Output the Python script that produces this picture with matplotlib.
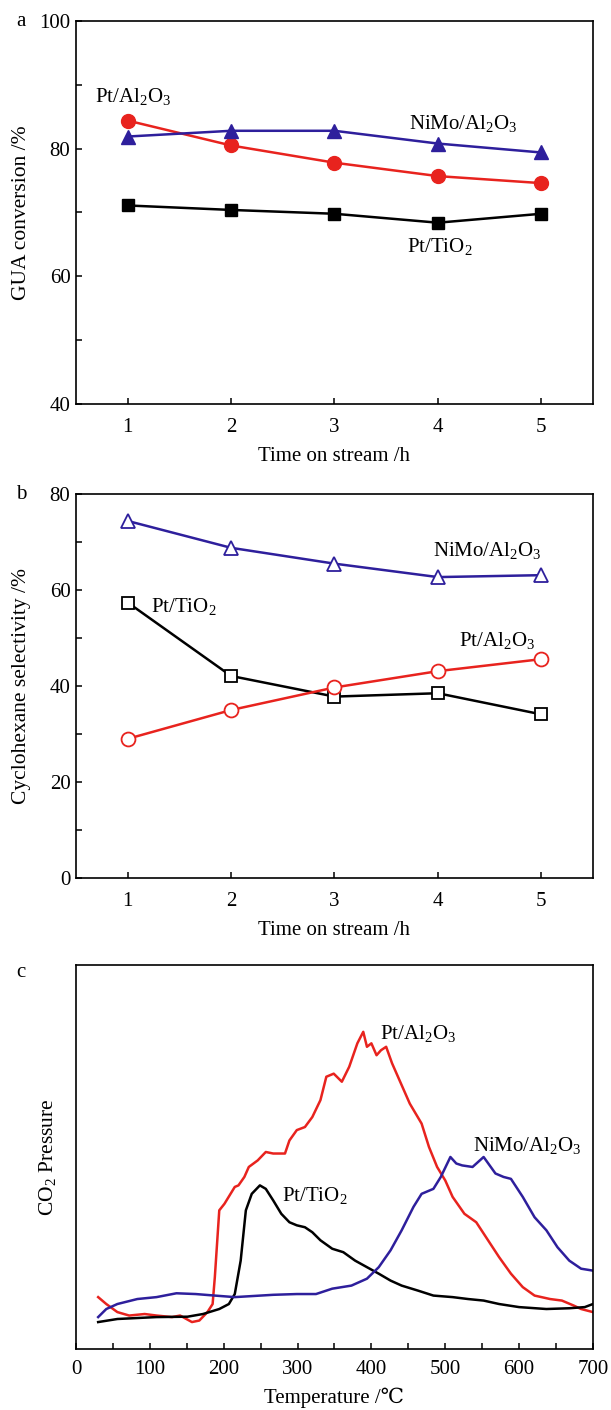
import matplotlib
matplotlib.use("Agg")
import matplotlib.pyplot as plt
from matplotlib.ticker import MultipleLocator

plt.rcParams['font.family'] = ['Liberation Serif', 'DejaVu Serif']
plt.rcParams['mathtext.fontset'] = 'custom'
plt.rcParams['mathtext.rm'] = 'Liberation Serif'
plt.rcParams['mathtext.it'] = 'Liberation Serif:italic'
plt.rcParams['font.size'] = 15

RED = '#e8231e'
BLUE = '#2e1f9c'

# panel a / b : time on stream
hours = [1, 2, 3, 4, 5]
conv_ptti = [71.1, 70.4, 69.8, 68.4, 69.8]
conv_ptal = [84.4, 80.5, 77.8, 75.7, 74.6]
conv_nimo = [81.9, 82.8, 82.8, 80.8, 79.4]

sel_nimo = [74.4, 68.8, 65.5, 62.7, 63.1]
sel_ptti = [57.4, 42.1, 37.8, 38.5, 34.1]
sel_ptal = [29.0, 35.0, 39.7, 43.1, 45.6]

# panel c : CO2 TPD traces (arbitrary units)
t_ptal = [30, 41, 56, 72, 93, 109, 130, 141, 157, 167, 178, 185, 188, 194, 201, 215, 220,
          228, 234, 246, 257, 267, 283, 289, 299, 310, 320, 331, 339, 349, 360, 370, 381,
          389, 394, 400, 407, 413, 420, 428, 436, 452, 468, 478, 489, 500, 510, 526, 542,
          558, 573, 589, 605, 621, 642, 658, 674, 684, 700]
p_ptal = [13.5, 11.7, 9.6, 8.7, 9.1, 8.7, 8.3, 8.7, 7.0, 7.4, 9.6, 11.7, 18.7, 36.1, 37.8,
          42.2, 42.6, 44.8, 47.4, 49.1, 51.3, 50.9, 50.9, 54.3, 57.0, 57.8, 60.4, 64.8, 70.9,
          71.7, 69.6, 73.5, 79.6, 82.6, 78.7, 79.6, 76.5, 77.8, 78.7, 74.4, 70.9, 63.9, 58.7,
          52.6, 47.4, 43.9, 39.6, 35.2, 33.0, 28.3, 23.9, 19.6, 16.1, 13.9, 13.0, 12.6, 11.3,
          10.4, 9.6]

t_ptti = [30, 56, 109, 151, 172, 194, 207, 215, 223, 230, 238, 249, 257, 267, 278, 289, 299,
          310, 320, 331, 347, 362, 378, 394, 410, 426, 441, 463, 484, 510, 531, 552, 573,
          600, 637, 668, 689, 700]
p_ptti = [7.0, 7.8, 8.3, 8.4, 9.1, 10.4, 11.7, 14.3, 23.0, 36.1, 40.4, 42.6, 41.7, 38.7,
          35.2, 33.0, 32.2, 31.7, 30.4, 28.3, 26.1, 25.2, 23.0, 21.3, 19.6, 17.8, 16.5, 15.2,
          13.9, 13.5, 13.0, 12.6, 11.7, 10.9, 10.4, 10.6, 10.9, 11.7]

t_nimo = [30, 41, 56, 83, 109, 136, 162, 188, 215, 267, 299, 325, 347, 373, 394, 410, 426,
          441, 457, 468, 484, 494, 507, 515, 523, 537, 552, 568, 579, 589, 605, 621, 637,
          652, 668, 684, 700]
p_nimo = [8.3, 10.4, 11.7, 13.0, 13.5, 14.5, 14.3, 13.9, 13.5, 14.1, 14.3, 14.3, 15.7, 16.5,
          18.3, 21.3, 25.7, 30.9, 37.0, 40.4, 41.7, 44.8, 50.0, 48.3, 47.8, 47.4, 50.0, 45.7,
          44.8, 44.3, 39.6, 34.3, 30.9, 26.5, 23.0, 20.9, 20.4]

fig = plt.figure(figsize=(6.11, 14.10), dpi=100)
ax_a = fig.add_axes([0.1244, 0.7135, 0.846, 0.2716])
ax_b = fig.add_axes([0.1244, 0.3773, 0.846, 0.2723])
ax_c = fig.add_axes([0.1244, 0.0433, 0.846, 0.2723])

def style(ax, xpad=10, xlab=-0.112):
    for s in ax.spines.values():
        s.set_linewidth(1.2)
    ax.tick_params(direction='in', which='both', top=False, right=False, labelsize=15,
                   length=4, width=1.1)
    ax.tick_params(axis='x', which='both', pad=xpad)
    ax.tick_params(axis='y', which='both', pad=4)
    ax.xaxis.set_label_coords(0.5, xlab)

LAB = 15
LW = 1.8

# a
ax_a.plot(hours, conv_ptti, color='black', marker='s', ms=8.5, lw=LW)
ax_a.plot(hours, conv_ptal, color=RED, marker='o', ms=10, lw=LW)
ax_a.plot(hours, conv_nimo, color=BLUE, marker='^', ms=10, lw=LW)
ax_a.set_xlim(0.5, 5.5)
ax_a.set_ylim(40, 100)
ax_a.set_xticks(hours)
ax_a.set_yticks([40, 60, 80, 100])
ax_a.yaxis.set_minor_locator(MultipleLocator(10))
ax_a.set_xlabel('Time on stream /h')
ax_a.set_ylabel('GUA conversion /%', fontsize=15.5)
ax_a.yaxis.set_label_coords(-0.087, 0.5)
ax_a.text(0.68, 88.1, 'Pt/Al$_2$O$_3$', fontsize=LAB, va='center')
ax_a.text(3.72, 84.0, 'NiMo/Al$_2$O$_3$', fontsize=LAB, va='center')
ax_a.text(3.70, 64.7, 'Pt/TiO$_2$', fontsize=LAB, va='center')
style(ax_a)

# b
ax_b.plot(hours, sel_nimo, color=BLUE, marker='^', ms=10, lw=LW, mfc='white', mew=1.3)
ax_b.plot(hours, sel_ptti, color='black', marker='s', ms=8.5, lw=LW, mfc='white', mew=1.3)
ax_b.plot(hours, sel_ptal, color=RED, marker='o', ms=10, lw=LW, mfc='white', mew=1.3)
ax_b.set_xlim(0.5, 5.5)
ax_b.set_ylim(0, 80)
ax_b.set_xticks(hours)
ax_b.set_yticks([0, 20, 40, 60, 80])
ax_b.yaxis.set_minor_locator(MultipleLocator(10))
ax_b.set_xlabel('Time on stream /h')
ax_b.set_ylabel('Cyclohexane selectivity /%', fontsize=15.5)
ax_b.yaxis.set_label_coords(-0.087, 0.5)
ax_b.text(3.95, 68.3, 'NiMo/Al$_2$O$_3$', fontsize=LAB, va='center')
ax_b.text(1.23, 56.5, 'Pt/TiO$_2$', fontsize=LAB, va='center')
ax_b.text(4.2, 49.5, 'Pt/Al$_2$O$_3$', fontsize=LAB, va='center')
style(ax_b)

# c
ax_c.plot(t_ptal, p_ptal, color=RED, lw=LW)
ax_c.plot(t_ptti, p_ptti, color='black', lw=LW)
ax_c.plot(t_nimo, p_nimo, color=BLUE, lw=LW)
ax_c.set_xlim(0, 700)
ax_c.set_ylim(0, 100)
ax_c.set_xticks(range(0, 701, 100))
ax_c.xaxis.set_minor_locator(MultipleLocator(50))
ax_c.set_yticks([])
ax_c.set_xlabel('Temperature /\u2103')
ax_c.set_ylabel('CO$_2$ Pressure', fontsize=15.5)
ax_c.yaxis.set_label_coords(-0.035, 0.5)
ax_c.text(412, 82.2, 'Pt/Al$_2$O$_3$', fontsize=LAB, va='center')
ax_c.text(537, 53.0, 'NiMo/Al$_2$O$_3$', fontsize=LAB, va='center')
ax_c.text(279, 40.0, 'Pt/TiO$_2$', fontsize=LAB, va='center')
style(ax_c, xpad=8, xlab=-0.1)

fig.text(0.026, 0.985, 'a', fontsize=15, va='center')
fig.text(0.026, 0.649, 'b', fontsize=15, va='center')
fig.text(0.026, 0.310, 'c', fontsize=15, va='center')

fig.savefig('out.png', dpi=100)
